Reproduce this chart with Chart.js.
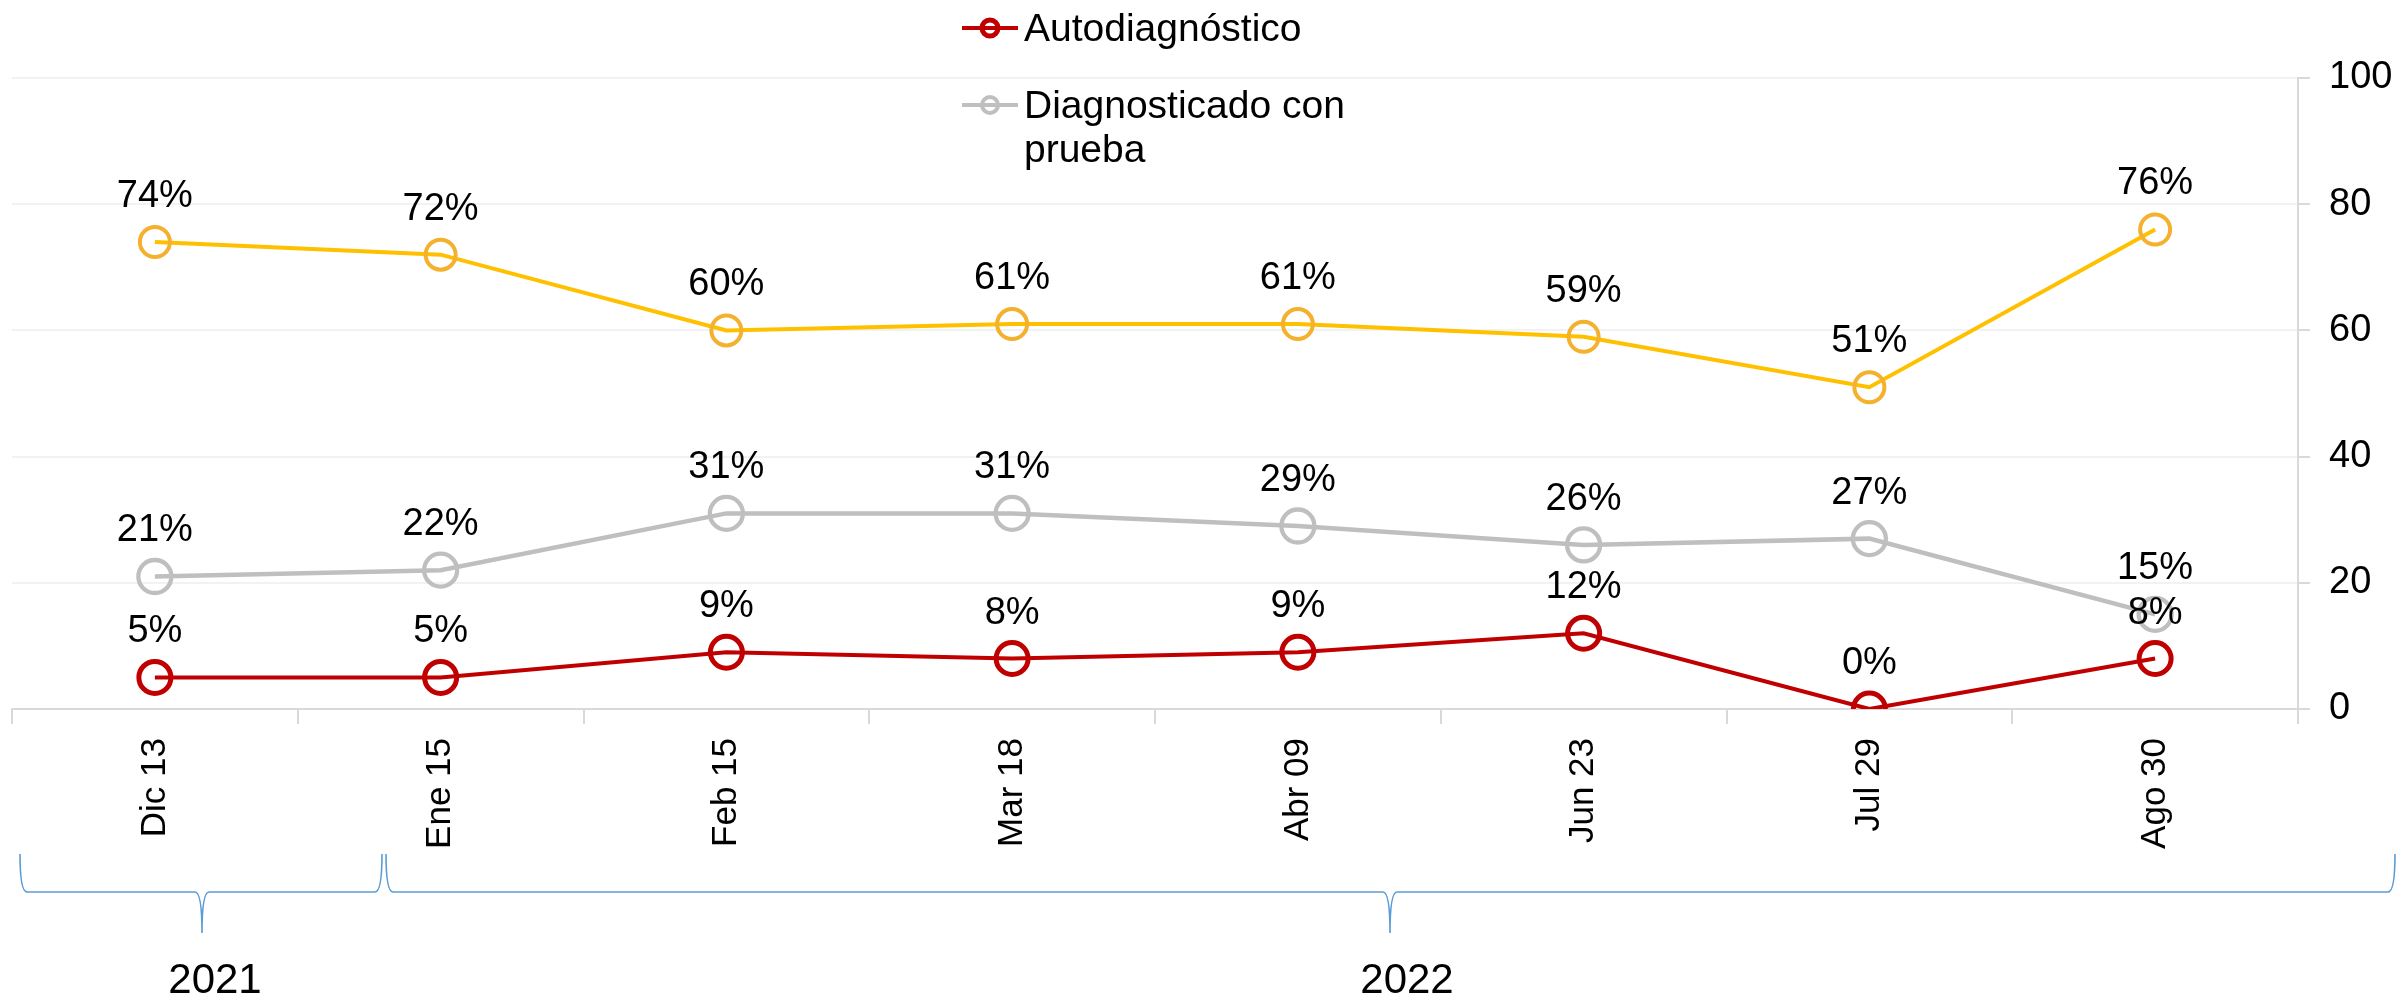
<!DOCTYPE html>
<html lang="es">
<head>
    <meta charset="UTF-8">
    <title>Autodiagnóstico y diagnosticado con prueba</title>
    <script src="https://cdn.jsdelivr.net/npm/chart.js@4.4.0/dist/chart.umd.min.js"></script>
    <style>
        body {
            margin: 0;
            background: #fff;
            font-family: 'Liberation Sans', Arial, sans-serif;
        }
        .wrap {
            position: relative;
            width: 2399px;
            height: 998px;
        }
        .legend {
            position: absolute;
            left: 962px;
            top: 6px;
            font-size: 39px;
            line-height: 44px;
            color: #000;
        }
        .legend-item {
            display: flex;
            align-items: flex-start;
            margin-bottom: 33px;
        }
        .legend-item svg {
            flex: none;
            width: 56px;
            height: 44px;
            margin-right: 6px;
        }
        .legend-item span {
            width: 345px;
        }
    </style>
</head>
<body>
    <div class="wrap">
        <canvas id="chart"></canvas>
        <div class="legend" id="legend"></div>
    </div>

    <script>
        // datos
        const categorias = ['Dic 13', 'Ene 15', 'Feb 15', 'Mar 18', 'Abr 09', 'Jun 23', 'Jul 29', 'Ago 30'];
        const autodiagnostico = [5, 5, 9, 8, 9, 12, 0, 8];
        const conPrueba = [21, 22, 31, 31, 29, 26, 27, 15];
        const serieAmarilla = [74, 72, 60, 61, 61, 59, 51, 76];
        const ticksY = [0, 20, 40, 60, 80, 100];
        const anios = ['2021', '2022'];

        Chart.defaults.font.family = "'Liberation Sans', Arial, sans-serif";
        Chart.defaults.color = '#000';

        // etiquetas de porcentaje encima de cada punto
        const etiquetasPlugin = {
            id: 'etiquetas',
            afterDatasetsDraw(chart) {
                const ctx = chart.ctx;
                ctx.save();
                ctx.font = "38px 'Liberation Sans', Arial, sans-serif";
                ctx.fillStyle = '#000';
                ctx.textAlign = 'center';
                ctx.textBaseline = 'alphabetic';
                chart.data.datasets.forEach((ds, i) => {
                    chart.getDatasetMeta(i).data.forEach((pt, j) => {
                        ctx.fillText(ds.data[j] + '%', pt.x, pt.y - 35);
                    });
                });
                ctx.restore();
            }
        };

        // llaves de los años debajo del eje
        const llavesPlugin = {
            id: 'llaves',
            afterDraw(chart) {
                const ctx = chart.ctx;
                const w = chart.width;
                const top = 854, mid = 892, bottom = 933, r = 7;
                const llaves = [
                    { x0: 20 / 2399 * w, x1: 382 / 2399 * w, tip: 202 / 2399 * w },
                    { x0: 386 / 2399 * w, x1: 2395 / 2399 * w, tip: 1390 / 2399 * w }
                ];
                ctx.save();
                ctx.strokeStyle = '#5B9BD5';
                ctx.lineWidth = 1.6;
                llaves.forEach(b => {
                    ctx.beginPath();
                    ctx.moveTo(b.x0, top);
                    ctx.quadraticCurveTo(b.x0, mid, b.x0 + r, mid);
                    ctx.lineTo(b.tip - r, mid);
                    ctx.quadraticCurveTo(b.tip, mid, b.tip, bottom);
                    ctx.quadraticCurveTo(b.tip, mid, b.tip + r, mid);
                    ctx.lineTo(b.x1 - r, mid);
                    ctx.quadraticCurveTo(b.x1, mid, b.x1, top);
                    ctx.stroke();
                });
                ctx.font = "42px 'Liberation Sans', Arial, sans-serif";
                ctx.fillStyle = '#000';
                ctx.textAlign = 'center';
                ctx.textBaseline = 'alphabetic';
                ctx.fillText(anios[0], 215 / 2399 * w, 993);
                ctx.fillText(anios[1], 1407 / 2399 * w, 993);
                ctx.restore();
            }
        };

        const chart = new Chart(document.getElementById('chart'), {
            type: 'line',
            data: {
                labels: categorias,
                datasets: [
                    {
                        label: 'Autodiagnóstico',
                        data: autodiagnostico,
                        borderColor: '#C00000',
                        borderWidth: 4,
                        pointRadius: 16,
                        pointBorderWidth: 5,
                        pointBorderColor: '#C00000',
                        pointBackgroundColor: 'rgba(0,0,0,0)',
                        tension: 0
                    },
                    {
                        label: 'Diagnosticado con prueba',
                        data: conPrueba,
                        borderColor: '#BFBFBF',
                        borderWidth: 4.5,
                        pointRadius: 16.5,
                        pointBorderWidth: 4.3,
                        pointBorderColor: '#BFBFBF',
                        pointBackgroundColor: 'rgba(0,0,0,0)',
                        tension: 0
                    },
                    {
                        label: '',
                        data: serieAmarilla,
                        borderColor: '#FFC000',
                        borderWidth: 4,
                        pointRadius: 15,
                        pointBorderWidth: 4,
                        pointBorderColor: '#F4B12E',
                        pointBackgroundColor: 'rgba(0,0,0,0)',
                        tension: 0
                    }
                ]
            },
            options: {
                responsive: true,
                maintainAspectRatio: false,
                animation: false,
                layout: {
                    autoPadding: false,
                    padding: { left: 12, top: 78, right: 0, bottom: 0 }
                },
                plugins: {
                    legend: { display: false },
                    tooltip: { enabled: false }
                },
                scales: {
                    x: {
                        offset: true,
                        grid: {
                            offset: true,
                            drawOnChartArea: false,
                            tickLength: 15,
                            tickColor: '#D9D9D9',
                            lineWidth: 2
                        },
                        border: { color: '#D9D9D9', width: 2 },
                        ticks: {
                            minRotation: 90,
                            maxRotation: 90,
                            autoSkip: false,
                            padding: 14,
                            font: { size: 35 }
                        },
                        afterFit(scale) {
                            scale.height = 289;
                            scale.paddingLeft = 0;
                            scale.paddingRight = 0;
                        }
                    },
                    y: {
                        position: 'right',
                        min: 0,
                        max: 100,
                        afterBuildTicks(scale) {
                            scale.ticks = ticksY.map(v => ({ value: v }));
                        },
                        grid: {
                            color: ctx => ctx.tick && ctx.tick.value === 0 ? '#D9D9D9' : '#F2F2F2',
                            lineWidth: 2,
                            tickLength: 12,
                            tickColor: '#D9D9D9'
                        },
                        border: { color: '#D9D9D9', width: 2 },
                        ticks: {
                            padding: 19,
                            font: { size: 38 }
                        },
                        afterFit(scale) { scale.width = 101; }
                    }
                }
            },
            plugins: [etiquetasPlugin, llavesPlugin]
        });

        // leyenda solo con las dos series con nombre
        const legend = document.getElementById('legend');
        chart.data.datasets.slice(0, 2).forEach(ds => {
            const item = document.createElement('div');
            item.className = 'legend-item';
            item.innerHTML =
                '<svg viewBox="0 0 56 44"><line x1="0" y1="22" x2="56" y2="22" stroke="' + ds.borderColor +
                '" stroke-width="4"/><circle cx="28" cy="22" r="8" fill="none" stroke="' + ds.pointBorderColor +
                '" stroke-width="' + (ds.pointBorderWidth >= 5 ? 5 : 4) + '"/></svg>';
            const text = document.createElement('span');
            text.textContent = ds.label;
            item.appendChild(text);
            legend.appendChild(item);
        });
    </script>
</body>
</html>
